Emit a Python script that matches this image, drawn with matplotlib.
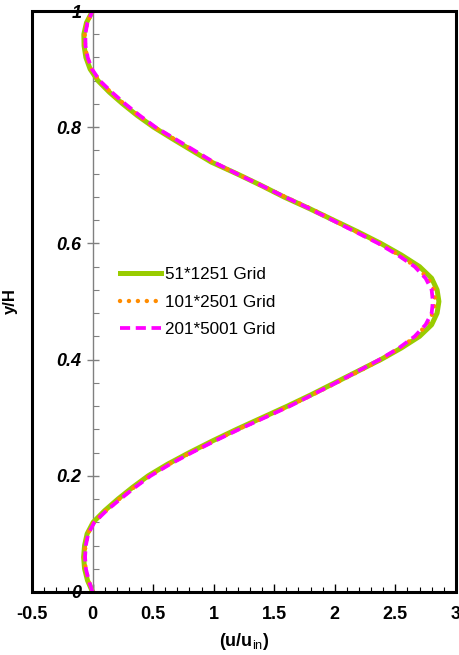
import matplotlib
matplotlib.use("Agg")
import matplotlib.pyplot as plt
from matplotlib.patches import Rectangle
from matplotlib.ticker import MultipleLocator

plt.rcParams['font.family'] = ['Liberation Sans', 'DejaVu Sans']
plt.rcParams['mathtext.fontset'] = 'custom'
plt.rcParams['mathtext.rm'] = 'Liberation Sans'
plt.rcParams['mathtext.bf'] = 'Liberation Sans:bold'

# y/H positions (0 to 1, step 0.02)
y_h = [i / 50 for i in range(51)]

# u/u_in for the three grids
u_51 = [0.000, -0.042, -0.066, -0.074, -0.066, -0.045, 0.005, 0.100, 0.210, 0.330,
        0.460, 0.620, 0.800, 0.990, 1.190, 1.400, 1.610, 1.810, 2.000, 2.190,
        2.380, 2.550, 2.700, 2.800, 2.845, 2.860,
        2.845, 2.800, 2.700, 2.550, 2.380, 2.190, 1.990, 1.790, 1.580, 1.390,
        1.190, 0.980, 0.820, 0.660, 0.505, 0.370, 0.250, 0.140, 0.045, -0.020,
        -0.055, -0.070, -0.072, -0.050, 0.000]
u_101 = [0.000, -0.035, -0.058, -0.066, -0.060, -0.040, 0.010, 0.110, 0.220, 0.340,
         0.470, 0.630, 0.810, 1.000, 1.200, 1.410, 1.620, 1.820, 2.010, 2.200,
         2.380, 2.540, 2.670, 2.760, 2.810, 2.830,
         2.820, 2.770, 2.670, 2.530, 2.370, 2.180, 1.990, 1.800, 1.590, 1.390,
         1.190, 0.990, 0.830, 0.670, 0.510, 0.380, 0.260, 0.150, 0.055, -0.010,
         -0.045, -0.062, -0.065, -0.045, 0.000]
u_201 = [0.000, -0.032, -0.055, -0.062, -0.056, -0.036, 0.015, 0.115, 0.230, 0.350,
         0.480, 0.640, 0.820, 1.010, 1.210, 1.420, 1.630, 1.820, 2.010, 2.190,
         2.370, 2.530, 2.660, 2.750, 2.800, 2.810,
         2.800, 2.750, 2.660, 2.520, 2.360, 2.170, 1.980, 1.790, 1.590, 1.390,
         1.190, 1.000, 0.840, 0.680, 0.520, 0.390, 0.270, 0.160, 0.060, -0.005,
         -0.040, -0.058, -0.060, -0.042, 0.000]

labels = ['51*1251 Grid', '101*2501 Grid', '201*5001 Grid']

fig = plt.figure(figsize=(4.6, 6.55), dpi=100)
ax = fig.add_axes([0.0696, 0.0962, 0.9214, 0.887])

ax.plot(u_51, y_h, color='#99CC00', lw=3.6, label=labels[0], zorder=3)
ax.plot(u_101, y_h, color='#FF8C00', lw=3.2, linestyle=(0, (0.01, 2.0)),
        dash_capstyle='round', solid_capstyle='round', label=labels[1], zorder=4)
ax.plot(u_201, y_h, color='#FF00FF', lw=2.7, linestyle=(0, (2.7, 1.5)),
        label=labels[2], zorder=5)

ax.set_xlim(-0.5, 3)
ax.set_ylim(0, 1)

# y axis drawn at u = 0, black frame around the plot
ax.spines['left'].set_position(('data', 0))
ax.spines['left'].set_color('gray')
ax.spines['left'].set_linewidth(1)
for s in ['top', 'right', 'bottom']:
    ax.spines[s].set_visible(False)
ax.add_patch(Rectangle((0, 0), 1, 1, transform=ax.transAxes, fill=False,
                       lw=2.2, edgecolor='black', clip_on=False, zorder=6))

ax.xaxis.set_major_locator(MultipleLocator(0.5))
ax.xaxis.set_minor_locator(MultipleLocator(0.1))
ax.yaxis.set_major_locator(MultipleLocator(0.2))
ax.yaxis.set_minor_locator(MultipleLocator(0.04))

ax.tick_params(axis='x', which='major', direction='in', length=6, width=1,
               labelsize=13, pad=10)
ax.tick_params(axis='x', which='minor', direction='in', length=3.5, width=0.8)
ax.tick_params(axis='y', which='major', direction='inout', length=8, width=1,
               color='gray', labelsize=13, pad=4)
ax.tick_params(axis='y', which='minor', direction='in', length=4, width=0.8,
               color='gray')

ax.set_xticks([-0.5, 0, 0.5, 1, 1.5, 2, 2.5, 3])
ax.set_xticklabels(['-0.5', '0', '0.5', '1', '1.5', '2', '2.5', '3'],
                   fontweight='bold')
ax.set_yticks([0, 0.2, 0.4, 0.6, 0.8, 1])
ax.set_yticklabels(['0', '0.2', '0.4', '0.6', '0.8', '1'],
                   fontweight='bold', fontstyle='italic')

ax.set_xlabel(r'$\mathbf{(u/u}_{\mathrm{in}}\mathbf{)}$', fontsize=13, labelpad=6)
fig.text(0.022, 0.54, 'y/H', rotation=90, fontsize=12, fontweight='bold',
         ha='center', va='center')

ax.legend(loc='center left', bbox_to_anchor=(0.208, 0.499), frameon=False,
          fontsize=12.3, handlelength=2.4, handletextpad=0.2, labelspacing=0.75,
          borderpad=0, borderaxespad=0)

fig.savefig('out.png', dpi=100)
